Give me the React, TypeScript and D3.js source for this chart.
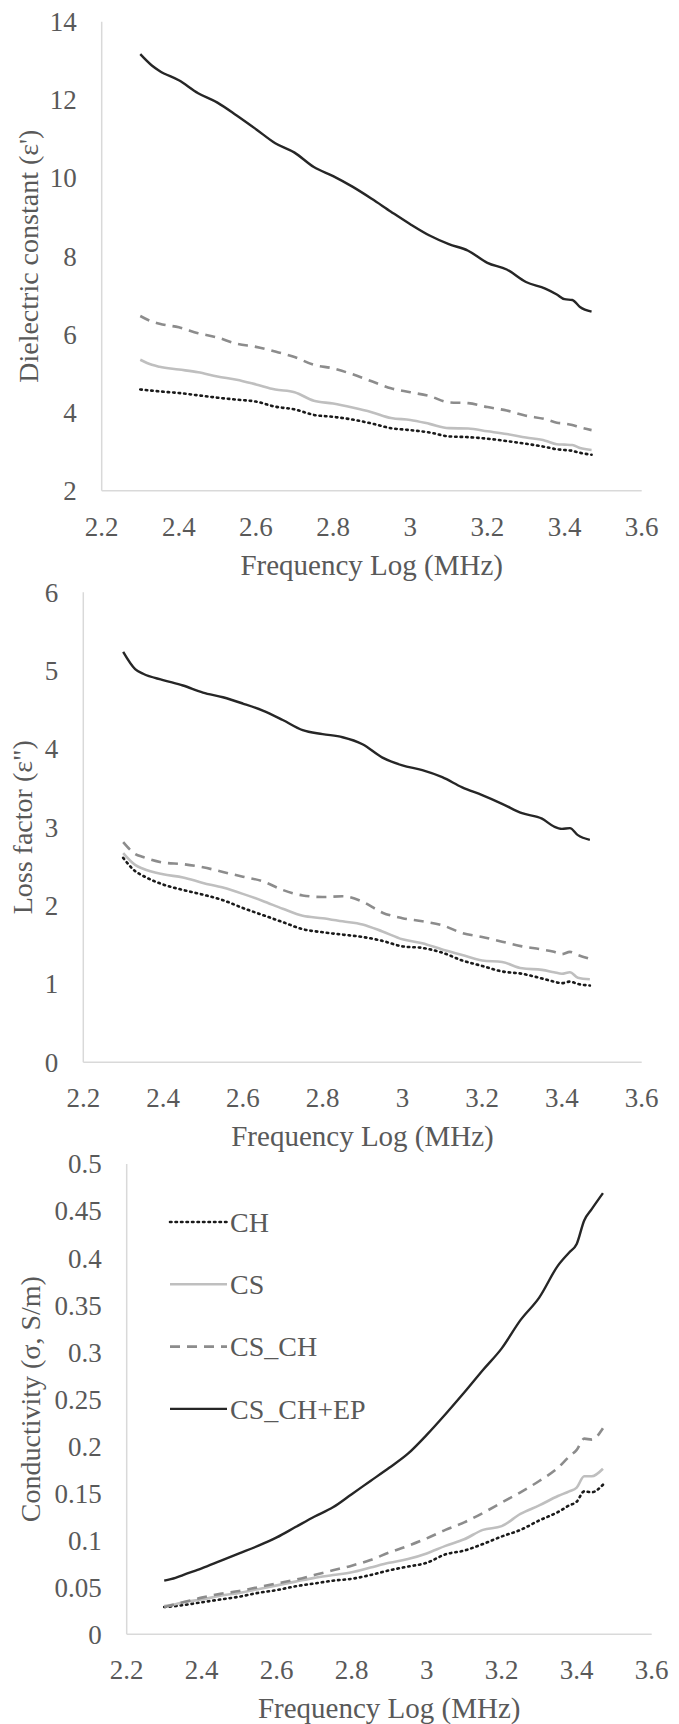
import React from "react";
import * as d3 from "d3";

const freq = [2.30, 2.33, 2.35, 2.40, 2.45, 2.50, 2.55, 2.60, 2.65, 2.70, 2.75, 2.80, 2.85, 2.90, 2.95, 3.00, 3.05, 3.10, 3.15, 3.20, 3.25, 3.30, 3.35, 3.38, 3.40, 3.42, 3.44, 3.47];

const seriesNames = ["CH", "CS", "CS_CH", "CS_CH+EP"];
const xTicks = [2.2, 2.4, 2.6, 2.8, 3, 3.2, 3.4, 3.6];

// Dielectric constant
const dcCH = [4.59, 4.56, 4.54, 4.50, 4.44, 4.38, 4.33, 4.28, 4.15, 4.08, 3.94, 3.89, 3.82, 3.72, 3.60, 3.55, 3.49, 3.39, 3.37, 3.33, 3.27, 3.20, 3.12, 3.06, 3.04, 3.02, 2.97, 2.92];
const dcCS = [5.35, 5.22, 5.17, 5.10, 5.03, 4.92, 4.84, 4.72, 4.59, 4.52, 4.30, 4.23, 4.13, 4.01, 3.86, 3.81, 3.71, 3.60, 3.59, 3.52, 3.45, 3.36, 3.28, 3.19, 3.18, 3.17, 3.09, 3.04];
const dcCSCH = [6.47, 6.33, 6.27, 6.18, 6.03, 5.92, 5.76, 5.68, 5.56, 5.42, 5.22, 5.13, 4.98, 4.80, 4.62, 4.52, 4.42, 4.26, 4.24, 4.14, 4.05, 3.92, 3.83, 3.74, 3.72, 3.68, 3.62, 3.55];
const dcCSCHEP = [13.17, 12.88, 12.74, 12.50, 12.17, 11.93, 11.60, 11.25, 10.89, 10.65, 10.28, 10.05, 9.78, 9.47, 9.14, 8.82, 8.53, 8.31, 8.14, 7.83, 7.66, 7.34, 7.17, 7.02, 6.90, 6.88, 6.70, 6.58];
const dcTicks = [2, 4, 6, 8, 10, 12, 14];

// Loss factor
const lfCH = [2.61, 2.44, 2.38, 2.27, 2.20, 2.14, 2.07, 1.97, 1.88, 1.79, 1.70, 1.66, 1.63, 1.60, 1.55, 1.48, 1.46, 1.40, 1.30, 1.23, 1.16, 1.13, 1.07, 1.03, 1.01, 1.03, 1.00, 0.98];
const lfCS = [2.67, 2.52, 2.47, 2.40, 2.36, 2.29, 2.23, 2.15, 2.06, 1.96, 1.87, 1.84, 1.80, 1.76, 1.67, 1.57, 1.52, 1.44, 1.37, 1.30, 1.28, 1.20, 1.18, 1.15, 1.13, 1.15, 1.08, 1.06];
const lfCSCH = [2.81, 2.66, 2.62, 2.55, 2.53, 2.49, 2.43, 2.37, 2.31, 2.20, 2.13, 2.11, 2.12, 2.05, 1.91, 1.84, 1.80, 1.75, 1.65, 1.60, 1.54, 1.48, 1.44, 1.41, 1.38, 1.41, 1.37, 1.32];
const lfCSCHEP = [5.24, 5.02, 4.96, 4.88, 4.81, 4.72, 4.66, 4.58, 4.49, 4.37, 4.24, 4.19, 4.15, 4.06, 3.89, 3.79, 3.73, 3.64, 3.51, 3.41, 3.30, 3.18, 3.11, 3.01, 2.98, 2.99, 2.90, 2.84];
const lfTicks = [0, 1, 2, 3, 4, 5, 6];

// Conductivity
const cdCH = [0.029, 0.030, 0.031, 0.034, 0.037, 0.040, 0.044, 0.047, 0.051, 0.054, 0.057, 0.059, 0.063, 0.068, 0.072, 0.076, 0.085, 0.089, 0.096, 0.104, 0.111, 0.121, 0.130, 0.137, 0.141, 0.152, 0.151, 0.159];
const cdCS = [0.030, 0.032, 0.034, 0.037, 0.041, 0.044, 0.048, 0.052, 0.056, 0.060, 0.063, 0.066, 0.071, 0.076, 0.080, 0.086, 0.094, 0.101, 0.111, 0.115, 0.128, 0.137, 0.147, 0.152, 0.156, 0.168, 0.168, 0.176];
const cdCSCH = [0.029, 0.032, 0.034, 0.039, 0.043, 0.046, 0.050, 0.054, 0.058, 0.063, 0.068, 0.073, 0.079, 0.087, 0.094, 0.102, 0.111, 0.119, 0.129, 0.140, 0.151, 0.163, 0.177, 0.189, 0.196, 0.208, 0.207, 0.219];
const cdCSCHEP = [0.057, 0.060, 0.063, 0.070, 0.078, 0.086, 0.094, 0.103, 0.114, 0.125, 0.135, 0.149, 0.163, 0.177, 0.192, 0.212, 0.234, 0.257, 0.281, 0.304, 0.334, 0.358, 0.392, 0.406, 0.415, 0.440, 0.452, 0.469];
const cdTicks = [0, 0.05, 0.1, 0.15, 0.2, 0.25, 0.3, 0.35, 0.4, 0.45, 0.5];

const FONT = "'Liberation Serif', 'Times New Roman', serif";
const TXT = "#595959";
const AXIS = "#d9d9d9";

const styles = [
  { stroke: "#1a1a1a", dash: "1.5 4", width: 2.6, cap: "round" },
  { stroke: "#bfbfbf", dash: null, width: 2.6, cap: "butt" },
  { stroke: "#8c8c8c", dash: "10 7", width: 2.6, cap: "butt" },
  { stroke: "#262626", dash: null, width: 2.4, cap: "butt" },
];

type PanelProps = {
  left: number; right: number; top: number; bottom: number;
  yTicks: number[]; series: number[][]; yTitle: string; yTitleX: number;
  legend?: boolean;
};

function Panel({ left, right, top, bottom, yTicks, series, yTitle, yTitleX, legend }: PanelProps) {
  const x = d3.scaleLinear().domain([2.2, 3.6]).range([left, right]);
  const y = d3.scaleLinear().domain([yTicks[0], yTicks[yTicks.length - 1]]).range([bottom, top]);
  const line = (vals: number[]) =>
    d3.line<number>().x((_, i) => x(freq[i])).y((v) => y(v)).curve(d3.curveMonotoneX)(vals) || "";
  const cy = (top + bottom) / 2;
  return (
    <g>
      <line x1={left} x2={left} y1={top} y2={bottom} stroke={AXIS} strokeWidth={1.5} />
      <line x1={left} x2={right} y1={bottom} y2={bottom} stroke={AXIS} strokeWidth={1.5} />
      {yTicks.map((t) => (
        <text key={"y" + t} x={left - 25} y={y(t)} dy="0.35em" textAnchor="end" fontSize={27} fill={TXT} fontFamily={FONT}>
          {String(t)}
        </text>
      ))}
      {xTicks.map((t) => (
        <text key={"x" + t} x={x(t)} y={bottom + 45} textAnchor="middle" fontSize={27} fill={TXT} fontFamily={FONT}>
          {String(t)}
        </text>
      ))}
      <text x={(left + right) / 2} y={bottom + 84} textAnchor="middle" fontSize={29} fill={TXT} fontFamily={FONT}>
        Frequency Log (MHz)
      </text>
      <text transform={`translate(${yTitleX},${cy}) rotate(-90)`} textAnchor="middle" dy="0.35em" fontSize={28} fill={TXT} fontFamily={FONT}>
        {yTitle}
      </text>
      {series.map((vals, i) => (
        <path key={i} d={line(vals)} fill="none" stroke={styles[i].stroke} strokeWidth={styles[i].width}
          strokeDasharray={styles[i].dash || undefined} strokeLinecap={styles[i].cap as any} strokeLinejoin="round" />
      ))}
      {legend && seriesNames.map((n, i) => {
        const ly = 1222 + i * 62.3;
        return (
          <g key={n}>
            <line x1={170} x2={227} y1={ly} y2={ly} stroke={styles[i].stroke} strokeWidth={styles[i].width}
              strokeDasharray={styles[i].dash || undefined} strokeLinecap={styles[i].cap as any} />
            <text x={230} y={ly} dy="0.35em" fontSize={28} fill={TXT} fontFamily={FONT}>{n}</text>
          </g>
        );
      })}
    </g>
  );
}

export default function App() {
  return (
    <svg width={679} height={1724} style={{ position: "absolute", left: 0, top: 0, background: "#fff" }}>
      <rect width={679} height={1724} fill="#fff" />
      <Panel left={101.7} right={641.7} top={21.7} bottom={490.7} yTicks={dcTicks}
        series={[dcCH, dcCS, dcCSCH, dcCSCHEP]} yTitle="Dielectric constant (ε')" yTitleX={28} />
      <Panel left={83.3} right={641.7} top={592.3} bottom={1062.3} yTicks={lfTicks}
        series={[lfCH, lfCS, lfCSCH, lfCSCHEP]} yTitle={'Loss factor (ε")'} yTitleX={22} />
      <Panel left={126.7} right={651.7} top={1164} bottom={1634.3} yTicks={cdTicks}
        series={[cdCH, cdCS, cdCSCH, cdCSCHEP]} yTitle="Conductivity (σ, S/m)" yTitleX={30} legend />
    </svg>
  );
}
